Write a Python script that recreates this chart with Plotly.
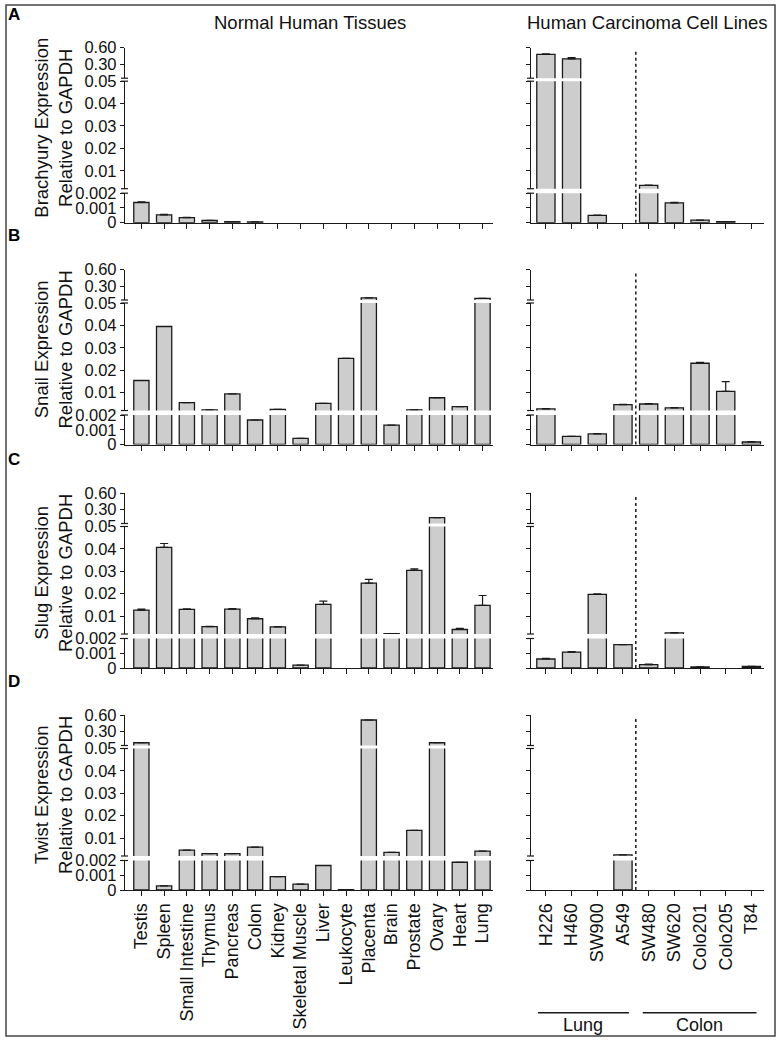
import plotly.graph_objects as go

# ---------------- data ----------------
tissues = ["Testis", "Spleen", "Small Intestine", "Thymus", "Pancreas", "Colon", "Kidney",
           "Skeletal Muscle", "Liver", "Leukocyte", "Placenta", "Brain", "Prostate", "Ovary",
           "Heart", "Lung"]
cell_lines = ["H226", "H460", "SW900", "A549", "SW480", "SW620", "Colo201", "Colo205", "T84"]

brachyury_tissue = [0.00137, 0.00053, 0.00035, 0.00015, 0.00007, 0.00005, 0, 0, 0, 0, 0, 0, 0, 0, 0, 0]
brachyury_tissue_err = [0.00004, 0.00003, 0.00002, 0.00001, 0, 0, 0, 0, 0, 0, 0, 0, 0, 0, 0, 0]
brachyury_cells = [0.48, 0.40, 0.00049, 0, 0.0035, 0.00135, 0.00017, 0.00007, 0]
brachyury_cells_err = [0.01, 0.02, 0.00002, 0, 0.0001, 0.00003, 0.00001, 0, 0]

snail_tissue = [0.0154, 0.0395, 0.0055, 0.0023, 0.0094, 0.00166, 0.0025, 0.00041, 0.0052, 0.0253,
                0.09, 0.00131, 0.0023, 0.0077, 0.0037, 0.08]
snail_tissue_err = [0, 0, 0, 0, 0, 0, 0, 0, 0, 0, 0, 0, 0, 0, 0, 0]
snail_cells = [0.0027, 0.00055, 0.00072, 0.0046, 0.0049, 0.0032, 0.0231, 0.0105, 0.00017]
snail_cells_err = [0.0001, 0, 0.00002, 0.0001, 0.0002, 0.0001, 0.0004, 0.0044, 0.00003]

slug_tissue = [0.0127, 0.0407, 0.0130, 0.0053, 0.0131, 0.0088, 0.0052, 0.00019, 0.0152, 0,
               0.0247, 0.0022, 0.0304, 0.155, 0.0040, 0.0148]
slug_tissue_err = [0.0004, 0.0017, 0.0002, 0.0001, 0.0002, 0.0004, 0.0001, 0, 0.0015, 0,
                   0.0017, 0, 0.0007, 0, 0.0005, 0.0044]
slug_cells = [0.00061, 0.00108, 0.0197, 0.00158, 0.00023, 0.0025, 0.00007, 0, 0.0001]
slug_cells_err = [0.00004, 0.00003, 0.0002, 0, 0.00003, 0.0001, 0, 0, 0.00002]

twist_tissue = [0.10, 0.00028, 0.0046, 0.0031, 0.0031, 0.0060, 0.0009, 0.0004, 0.00166, 0.00003,
                0.51, 0.0036, 0.0134, 0.10, 0.00188, 0.0042]
twist_tissue_err = [0] * 16
twist_cells = [0, 0, 0, 0.0025, 0, 0, 0, 0, 0]
twist_cells_err = [0] * 9

gene_names = ["Brachyury", "Snail", "Slug", "Twist"]
panel_letters = ["A", "B", "C", "D"]

seg_ranges = [(0, 0.002), (0.002, 0.05), (0.05, 0.6)]
seg_tickvals = [[0, 0.001, 0.002], [0.01, 0.02, 0.03, 0.04, 0.05], [0.30, 0.60]]
seg_ticktext = [["0", "0.001", "0.002"], ["0.01", "0.02", "0.03", "0.04", "0.05"], ["0.30", "0.60"]]

# ---------------- geometry ----------------
W, H = 782, 1043
def px(v): return v / W
def py(v): return 1 - v / H

panel_top = [47.7, 269.5, 493.0, 715.0]
seg_px = [(145.5, 175.0), (33.5, 141.0), (0.0, 30.5)]   # (top, bottom) relative px
group_dom = [(125, 493), (531, 764)]
group_rng = [(-0.72, 15.46), (-0.58, 8.49)]
group_width = [0.67, 0.71]

FONT = "Liberation Sans, Arial, Helvetica, sans-serif"
INK = "#1a1a1a"

data = [
    (brachyury_tissue, brachyury_tissue_err, brachyury_cells, brachyury_cells_err),
    (snail_tissue, snail_tissue_err, snail_cells, snail_cells_err),
    (slug_tissue, slug_tissue_err, slug_cells, slug_cells_err),
    (twist_tissue, twist_tissue_err, twist_cells, twist_cells_err),
]

fig = go.Figure()
layout = {}
shapes = []
annotations = []

for p in range(4):
    P = panel_top[p]
    t_vals, t_err, c_vals, c_err = data[p]
    for g in range(2):
        cats = tissues if g == 0 else cell_lines
        vals = t_vals if g == 0 else c_vals
        errs = t_err if g == 0 else c_err
        k = p * 2 + g + 1
        xname = "x" if k == 1 else f"x{k}"
        xkey = "xaxis" if k == 1 else f"xaxis{k}"
        m_bottom = (p * 2 + g) * 3 + 1
        ybottom = "y" if m_bottom == 1 else f"y{m_bottom}"
        layout[xkey] = dict(
            domain=[px(group_dom[g][0]), px(group_dom[g][1])],
            anchor=ybottom, type="category", range=list(group_rng[g]),
            showline=True, linecolor=INK, linewidth=1.3,
            ticks="outside", ticklen=5, tickcolor=INK, tickwidth=1.2,
            showgrid=False, zeroline=False, automargin=False,
            showticklabels=(p == 3), tickangle=-90,
            tickfont=dict(size=18, color="#111", family=FONT),
        )
        ax_x = group_dom[g][0]
        for s in range(3):
            m = (p * 2 + g) * 3 + s + 1
            yname = "y" if m == 1 else f"y{m}"
            ykey = "yaxis" if m == 1 else f"yaxis{m}"
            top_px, bot_px = seg_px[s]
            lo, hi = seg_ranges[s]
            # only bars that reach into this axis segment are drawn in it
            seg_vals = [v if v > lo else None for v in vals]
            seg_errs = [e if (e > 0 and v > lo) else None for v, e in zip(vals, errs)]
            layout[ykey] = dict(
                domain=[py(P + bot_px), py(P + top_px)],
                anchor=xname, range=[lo, hi],
                tickvals=seg_tickvals[s], ticktext=seg_ticktext[s],
                showticklabels=(g == 0),
                ticks="outside", ticklen=4, tickcolor=INK, tickwidth=1.2,
                showline=True, linecolor=INK, linewidth=1.3,
                showgrid=False, zeroline=False, automargin=False,
                tickfont=dict(size=16.5, color="#111", family=FONT),
            )
            fig.add_trace(go.Bar(
                x=cats, y=seg_vals, xaxis=xname, yaxis=yname,
                width=group_width[g],
                marker=dict(color="#cdcdcd", line=dict(color=INK, width=1.3)),
                error_y=dict(type="data", array=seg_errs, arrayminus=[0] * len(cats),
                             symmetric=False, color=INK, thickness=1.2, width=4),
                showlegend=False, hoverinfo="skip",
            ))
            # axis-break marks at segment ends
            for end in ([top_px, bot_px] if s == 1 else ([bot_px] if s == 2 else [top_px])):
                shapes.append(dict(type="line", xref="paper", yref="paper",
                                   x0=px(ax_x - 4), x1=px(ax_x + 3),
                                   y0=py(P + end), y1=py(P + end),
                                   line=dict(color=INK, width=1.2)))
        if g == 1:
            shapes.append(dict(type="line", xref=xname, yref="paper",
                               x0=3.5, x1=3.5, y0=py(P + 175), y1=py(P + 2),
                               line=dict(color=INK, width=1.5, dash="dot")))

    # y titles
    annotations.append(dict(
        x=px(53.5), y=py(P + 87.5 - 7), xref="paper", yref="paper",
        text=f"{gene_names[p]} Expression<br>Relative to GAPDH", textangle=-90,
        showarrow=False, xanchor="center", yanchor="middle",
        font=dict(size=18.5, color="#111", family=FONT)))

# panel letters
for letter, yc in zip(panel_letters, [15, 236, 459, 681]):
    annotations.append(dict(x=px(14), y=py(yc), xref="paper", yref="paper", text=f"<b>{letter}</b>",
                            showarrow=False, xanchor="center", yanchor="middle",
                            font=dict(size=17, color="#000", family=FONT)))

# column titles
annotations.append(dict(x=px(310), y=py(22.5), xref="paper", yref="paper", text="Normal Human Tissues",
                        showarrow=False, xanchor="center", yanchor="middle",
                        font=dict(size=18.5, color="#111", family=FONT)))
annotations.append(dict(x=px(647), y=py(22.5), xref="paper", yref="paper", text="Human Carcinoma Cell Lines",
                        showarrow=False, xanchor="center", yanchor="middle",
                        font=dict(size=18.5, color="#111", family=FONT)))

# group brackets
for label, x0, x1 in [("Lung", -0.31, 3.23), ("Colon", 3.77, 8.2)]:
    shapes.append(dict(type="line", xref="x8", yref="paper", x0=x0, x1=x1,
                       y0=py(1012.7), y1=py(1012.7), line=dict(color=INK, width=1.5)))
    annotations.append(dict(x=(x0 + x1) / 2, y=py(1025), xref="x8", yref="paper", text=label,
                            showarrow=False, xanchor="center", yanchor="middle",
                            font=dict(size=18, color="#111", family=FONT)))

# outer frame
shapes.append(dict(type="rect", xref="paper", yref="paper", x0=px(6), x1=px(775),
                   y0=py(1036), y1=py(5), line=dict(color="#444", width=1.5)))

fig.update_layout(
    width=W, height=H,
    margin=dict(l=0, r=0, t=0, b=0, pad=0, autoexpand=False),
    paper_bgcolor="white", plot_bgcolor="white",
    font=dict(family=FONT, color="#111"),
    shapes=shapes, annotations=annotations, showlegend=False,
    **layout,
)

fig.write_html("out.html",
               config={"displayModeBar": False, "responsive": False},
               post_script="document.body.style.margin='0';document.body.style.overflow='hidden';")
